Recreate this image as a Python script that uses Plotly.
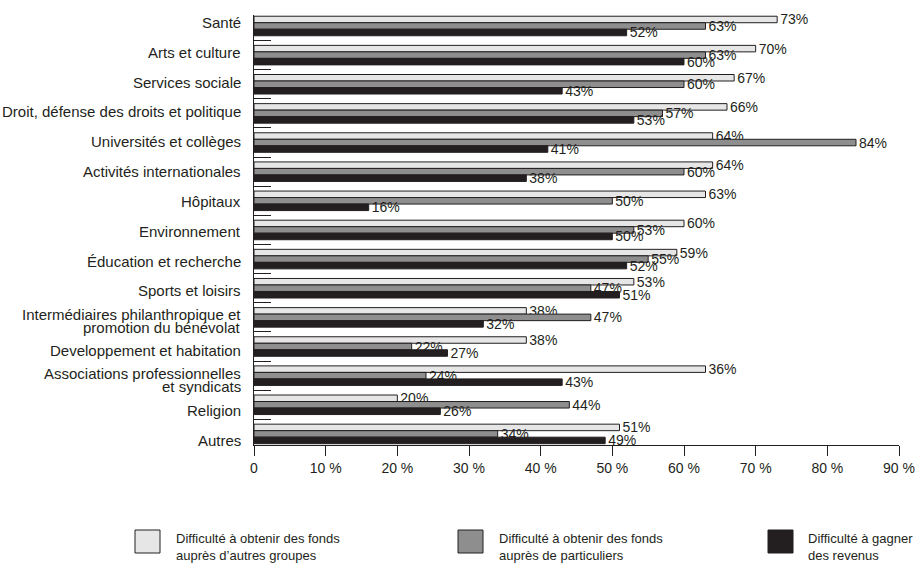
import plotly.graph_objects as go

# ---------------- data ----------------
categories = [
    "Santé",
    "Arts et culture",
    "Services sociale",
    "Droit, défense des droits et politique",
    "Universités et collèges",
    "Activités internationales",
    "Hôpitaux",
    "Environnement",
    "Éducation et recherche",
    "Sports et loisirs",
    "Intermédiaires philanthropique et<br>promotion du bénévolat",
    "Developpement et habitation",
    "Associations professionnelles<br>et syndicats",
    "Religion",
    "Autres",
]
autres_groupes = [73, 70, 67, 66, 64, 64, 63, 60, 59, 53, 38, 38, 63, 20, 51]
autres_groupes_text = ["73%", "70%", "67%", "66%", "64%", "64%", "63%", "60%", "59%",
                       "53%", "38%", "38%", "36%", "20%", "51%"]
particuliers = [63, 63, 60, 57, 84, 60, 50, 53, 55, 47, 47, 22, 24, 44, 34]
revenus = [52, 60, 43, 53, 41, 38, 16, 50, 52, 51, 32, 27, 43, 26, 49]

series_names = [
    "Difficulté à obtenir des fonds<br>auprès d’autres groupes",
    "Difficulté à obtenir des fonds<br>auprès de particuliers",
    "Difficulté à gagner<br>des revenus",
]
series_colors = ["#e6e6e6", "#8e8e8e", "#231f20"]
x_tick_values = [0, 10, 20, 30, 40, 50, 60, 70, 80, 90]
x_tick_labels = ["0", "10 %", "20 %", "30 %", "40 %", "50 %", "60 %", "70 %", "80 %", "90 %"]

# ---------------- styling ----------------
FONT = "Liberation Sans Narrow, Arial Narrow, Liberation Sans, Arial, sans-serif"
INK = "#231f20"
W, H = 915, 565
ML, MR, MT, MB = 254, 16, 15, 120
PW, PH = W - ML - MR, H - MT - MB

def px_x(p):
    return (p - ML) / PW

def px_y(p):
    return (H - MB - p) / PH

positions = list(range(len(categories)))
values = [autres_groupes, particuliers, revenus]
texts = [autres_groupes_text,
         [f"{v}%" for v in particuliers],
         [f"{v}%" for v in revenus]]

fig = go.Figure()
for name, vals, txt, col in zip(series_names, values, texts, series_colors):
    fig.add_trace(go.Bar(
        y=positions, x=vals, orientation="h", name=name,
        marker=dict(color=col, line=dict(color=INK, width=1)),
        text=txt, textposition="outside", constraintext="none",
        cliponaxis=False,
        textfont=dict(family=FONT, size=14, color=INK),
        showlegend=False,
    ))

annotations = []
# category labels (slightly drifting pitch as in the original)
for i, cat in enumerate(categories):
    yc = -0.12 + i * 1.0236
    lines = cat.split("<br>")
    n = len(lines)
    for j, line in enumerate(lines):
        annotations.append(dict(
            x=0, xref="paper", y=yc, yref="y", text=line, showarrow=False,
            xanchor="right", yanchor="middle", xshift=-11,
            yshift=(n - 1) * 6.5 - j * 13,
            font=dict(family=FONT, size=15, color=INK),
        ))

# custom legend
shapes = []
legend_box_x = [135, 458, 768]
legend_text_x = [174, 497, 806]
for name, col, bx, tx in zip(series_names, series_colors, legend_box_x, legend_text_x):
    shapes.append(dict(
        type="rect", xref="paper", yref="paper",
        x0=px_x(bx), x1=px_x(bx + 25), y0=px_y(553), y1=px_y(530),
        fillcolor=col, line=dict(color=INK, width=1),
    ))
    for j, line in enumerate(name.split("<br>")):
        annotations.append(dict(
            x=px_x(tx), xref="paper", y=px_y(538 + j * 17), yref="paper",
            text=line, showarrow=False, xanchor="left", yanchor="middle",
            font=dict(family=FONT, size=13, color=INK),
        ))

fig.update_layout(
    width=W, height=H,
    margin=dict(l=ML, r=MR, t=MT, b=MB, pad=0, autoexpand=False),
    barmode="group", bargap=0.33, bargroupgap=0,
    plot_bgcolor="white", paper_bgcolor="white",
    font=dict(family=FONT, size=15, color=INK),
    xaxis=dict(
        range=[0, 90], tickvals=x_tick_values, ticktext=x_tick_labels,
        ticks="outside", ticklen=10, tickwidth=1, tickcolor=INK,
        showline=True, linecolor=INK, linewidth=1,
        showgrid=False, zeroline=False, automargin=False,
        tickfont=dict(family=FONT, size=14, color=INK),
    ),
    yaxis=dict(
        range=[14.38, -0.377],
        tickvals=[i + 0.5 for i in range(len(categories) - 1)],
        ticks="inside", ticklen=17, tickwidth=1, tickcolor=INK,
        showticklabels=False, automargin=False,
        showline=True, linecolor=INK, linewidth=1,
        showgrid=False, zeroline=False,
    ),
    annotations=annotations,
    shapes=shapes,
)

fig.write_html(
    "out.html",
    config={"displayModeBar": False},
    post_script="document.body.style.margin='0';document.body.style.overflow='hidden';",
)
